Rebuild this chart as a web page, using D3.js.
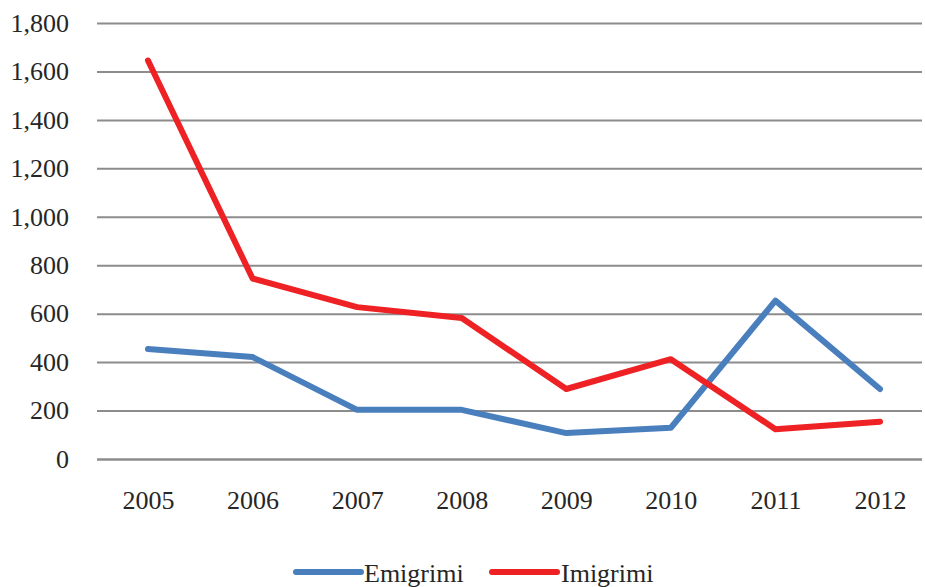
<!DOCTYPE html>
<html><head><meta charset="utf-8">
<script src="https://cdn.jsdelivr.net/npm/d3@7/dist/d3.min.js"></script>
<style>body{margin:0;background:#fff}svg{display:block}text{font-family:"Liberation Serif",serif;fill:#262626}</style>
</head><body><svg width="925" height="587"></svg>
<script>
const years = ["2005","2006","2007","2008","2009","2010","2011","2012"];
const emigrimi = [454, 421, 203, 203, 107, 129, 654, 289];
const imigrimi = [1645, 745, 627, 582, 289, 412, 123, 154];
const yTicks = [0,200,400,600,800,1000,1200,1400,1600,1800];
const seriesNames = ["Emigrimi","Imigrimi"];
const colors = ["#4a7fbe","#ee2224"];

(function(){
const svg = d3.select("svg");
const mLeft = 97, mRight = 922, mTop = 23, mBottom = 459;
const fs = 26;
const x = d3.scalePoint().domain(years).range([148, 880]);
const y = d3.scaleLinear().domain([0,1800]).range([mBottom, mTop]);

const yAxis = d3.axisLeft(y).tickValues(yTicks).tickSize(-(mRight-mLeft)).tickPadding(28).tickFormat(d3.format(","));
const gy = svg.append("g").attr("transform",`translate(${mLeft},0)`).call(yAxis);
gy.select(".domain").remove();
gy.selectAll(".tick line").attr("stroke","#8c8c8c").attr("stroke-width",d=>d===0?2.5:2);
gy.selectAll(".tick text").attr("font-size",fs).attr("fill","#262626").attr("font-family","Liberation Serif");

const xAxis = d3.axisBottom(x).tickSize(0).tickPadding(0);
const gx = svg.append("g").attr("transform",`translate(0,${mBottom})`).call(xAxis);
gx.select(".domain").remove();
gx.selectAll(".tick text").attr("font-size",fs).attr("fill","#262626").attr("font-family","Liberation Serif").attr("dy",null).attr("y",50);

const line = d3.line().x((d,i)=>x(years[i])).y(d=>y(d));
[emigrimi, imigrimi].forEach((s,k)=>{
  svg.append("path").datum(s).attr("d",line).attr("fill","none")
    .attr("stroke",colors[k]).attr("stroke-width",6).attr("stroke-linecap","round").attr("stroke-linejoin","round");
});

const lg = [{x1:296,x2:361,tx:364},{x1:492,x2:557,tx:561}];
seriesNames.forEach((n,k)=>{
  svg.append("line").attr("x1",lg[k].x1).attr("x2",lg[k].x2).attr("y1",572).attr("y2",572)
    .attr("stroke",colors[k]).attr("stroke-width",6).attr("stroke-linecap","round");
  svg.append("text").attr("x",lg[k].tx).attr("y",582).attr("font-size",fs).text(n);
});
})();
</script></body></html>
